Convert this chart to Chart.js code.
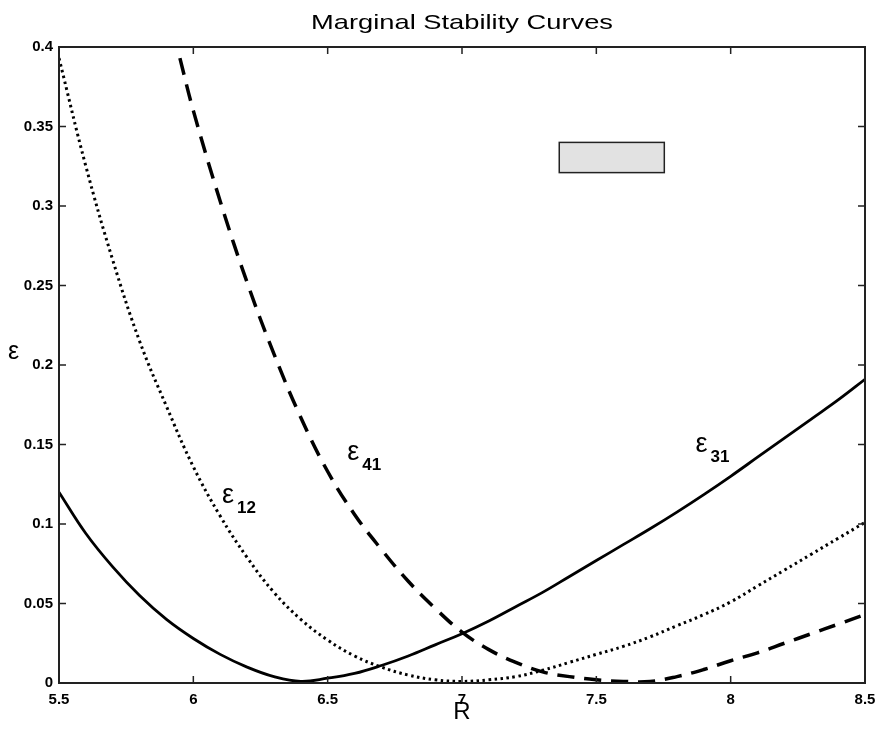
<!DOCTYPE html>
<html><head><meta charset="utf-8">
<script src="https://cdn.jsdelivr.net/npm/chart.js@4/dist/chart.umd.min.js"></script>
<style>html,body{margin:0;padding:0;background:#fff}#wrap{width:875px;height:732px}</style>
</head><body><div id="wrap"><canvas id="c" width="875" height="732"></canvas></div>
<script>
const chartTitle = 'Marginal Stability Curves';
const xTitle = 'R';
const yTitle = 'ε';
const R = [5.5,5.6,5.7,5.8,5.9,6.0,6.1,6.2,6.3,6.4,6.5,6.6,6.7,6.8,6.9,7.0,7.1,7.2,7.3,7.4,7.5,7.6,7.7,7.8,7.9,8.0,8.1,8.2,8.3,8.4,8.5];
const eps31 = [0.120,0.094,0.073,0.055,0.040,0.028,0.018,0.010,0.004,0.001,0.003,0.006,0.011,0.017,0.024,0.031,0.039,0.048,0.057,0.067,0.077,0.087,0.097,0.1075,0.1185,0.130,0.142,0.154,0.166,0.178,0.191];
const eps12 = [0.393,0.325,0.266,0.215,0.174,0.136,0.105,0.079,0.057,0.040,0.027,0.017,0.010,0.005,0.002,0.001,0.002,0.004,0.008,0.013,0.018,0.023,0.029,0.036,0.043,0.051,0.061,0.071,0.081,0.091,0.101];
const R41 = [5.95,6.0,6.1,6.2,6.3,6.4,6.5,6.6,6.7,6.8,6.9,7.0,7.1,7.2,7.3,7.4,7.5,7.6,7.7,7.8,7.9,8.0,8.1,8.2,8.3,8.4,8.5];
const eps41 = [0.393,0.360,0.303,0.252,0.207,0.167,0.133,0.106,0.084,0.064,0.047,0.032,0.021,0.013,0.007,0.004,0.002,0.001,0.001,0.004,0.0085,0.014,0.019,0.025,0.031,0.037,0.043];
const xTickLabels = ['5.5','6','6.5','7','7.5','8','8.5'];
const yTickLabels = ['0','0.05','0.1','0.15','0.2','0.25','0.3','0.35','0.4'];
const curveLabels = [
  {main:'ε', sub:'12', x:6.107, y:0.113},
  {main:'ε', sub:'41', x:6.573, y:0.140},
  {main:'ε', sub:'31', x:7.869, y:0.145}
];
const legendBox = {x0:7.362, x1:7.753, y0:0.321, y1:0.340};

const pts = (xs, ys) => xs.map((x,i)=>({x, y: ys[i]}));
const FONT = '"Liberation Sans", Arial, sans-serif';

const decor = {
  id:'decor',
  afterDatasetsDraw(chart){
    const {ctx, chartArea:a, scales:{x, y}} = chart;
    ctx.save();
    const bx0 = x.getPixelForValue(legendBox.x0), bx1 = x.getPixelForValue(legendBox.x1);
    const by0 = y.getPixelForValue(legendBox.y1), by1 = y.getPixelForValue(legendBox.y0);
    ctx.fillStyle = '#e2e2e2';
    ctx.fillRect(bx0, by0, bx1-bx0, by1-by0);
    ctx.strokeStyle = '#222'; ctx.lineWidth = 1.5;
    ctx.strokeRect(bx0, by0, bx1-bx0, by1-by0);
    ctx.strokeStyle = '#222'; ctx.lineWidth = 2;
    ctx.strokeRect(a.left, a.top, a.right-a.left, a.bottom-a.top);
    ctx.lineWidth = 1.5;
    const tl = 7;
    x.ticks.forEach(t=>{
      const px = x.getPixelForValue(t.value);
      ctx.beginPath();
      ctx.moveTo(px, a.bottom); ctx.lineTo(px, a.bottom-tl);
      ctx.moveTo(px, a.top); ctx.lineTo(px, a.top+tl);
      ctx.stroke();
    });
    y.ticks.forEach(t=>{
      const py = y.getPixelForValue(t.value);
      ctx.beginPath();
      ctx.moveTo(a.left, py); ctx.lineTo(a.left+tl, py);
      ctx.moveTo(a.right, py); ctx.lineTo(a.right-tl, py);
      ctx.stroke();
    });
    ctx.fillStyle = '#000';
    ctx.textBaseline = 'alphabetic'; ctx.textAlign = 'left';
    curveLabels.forEach(l=>{
      const px = x.getPixelForValue(l.x), py = y.getPixelForValue(l.y);
      ctx.font = '27px ' + FONT;
      ctx.fillText(l.main, px, py);
      ctx.font = 'bold 17px ' + FONT;
      ctx.fillText(l.sub, px+15, py+10);
    });
    ctx.font = '25px ' + FONT;
    ctx.textAlign = 'left';
    ctx.fillText(yTitle, 8, 359);
    ctx.textAlign = 'center';
    ctx.font = '24px ' + FONT;
    ctx.fillText(xTitle, (a.left+a.right)/2, 719);
    ctx.save();
    ctx.font = '21px ' + FONT;
    ctx.translate((a.left+a.right)/2, 29);
    ctx.scale(1.3, 1);
    ctx.textAlign = 'center';
    ctx.fillText(chartTitle, 0, 0);
    ctx.restore();
    ctx.restore();
  }
};

new Chart(document.getElementById('c'), {
  type:'line',
  data:{
    datasets:[
      {label:'ε31', data:pts(R, eps31), borderColor:'#000', borderWidth:2.8, pointRadius:0, tension:0.4},
      {label:'ε12', data:pts(R, eps12), borderColor:'#000', borderWidth:3, borderDash:[2.5,3.5], pointRadius:0, tension:0.4},
      {label:'ε41', data:pts(R41, eps41), borderColor:'#000', borderWidth:3.5, borderDash:[17,10], pointRadius:0, tension:0.4}
    ]
  },
  options:{
    responsive:false, animation:false, devicePixelRatio:1,
    layout:{padding:{top:47, right:10, left:0, bottom:0}},
    plugins:{legend:{display:false}, tooltip:{enabled:false}, title:{display:false}},
    scales:{
      x:{type:'linear', min:5.5, max:8.5,
        afterFit(s){ s.height = 49; s.paddingLeft = 0; s.paddingRight = 0; },
        grid:{display:false, drawTicks:false}, border:{display:false},
        ticks:{stepSize:0.5, padding:8, color:'#000', maxRotation:0, autoSkip:false,
          font:{family:FONT, size:15, weight:'bold'},
          callback:(v,i)=>xTickLabels[i]}
      },
      y:{type:'linear', min:0, max:0.4,
        afterFit(s){ s.width = 59; s.paddingTop = 0; s.paddingBottom = 0; },
        grid:{display:false, drawTicks:false}, border:{display:false},
        ticks:{stepSize:0.05, padding:6, color:'#000', autoSkip:false,
          font:{family:FONT, size:15, weight:'bold'},
          callback:(v,i)=>yTickLabels[i]}
      }
    }
  },
  plugins:[decor]
});
</script></body></html>
